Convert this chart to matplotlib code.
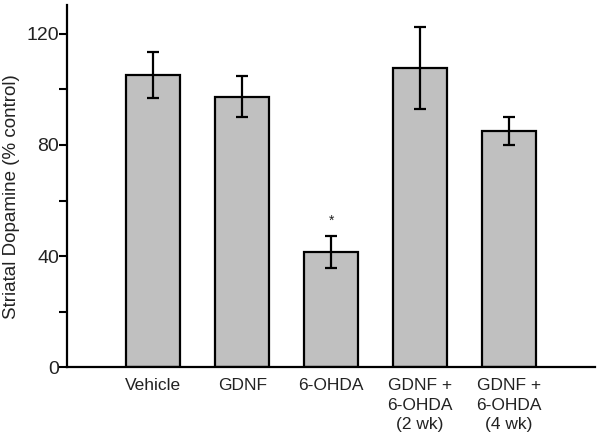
import matplotlib.pyplot as plt
from matplotlib.ticker import MultipleLocator

plt.rcParams['font.family'] = ['Liberation Sans', 'DejaVu Sans']

# data
groups = ['Vehicle', 'GDNF', '6-OHDA', 'GDNF +\n6-OHDA\n(2 wk)', 'GDNF +\n6-OHDA\n(4 wk)']
dopamine = [105.2, 97.4, 41.5, 107.6, 85.0]
sem = [8.2, 7.5, 5.8, 14.7, 5.0]
signif = ['', '', '*', '', '']

fig = plt.figure(figsize=(6, 4.38), dpi=100)
ax = fig.add_axes([0.111, 0.161, 0.881, 0.828])

x = range(len(groups))
ax.bar(x, dopamine, width=0.61, color='#c0c0c0', edgecolor='black', linewidth=1.6,
       yerr=sem, capsize=4, error_kw={'elinewidth': 1.6, 'capthick': 1.6, 'ecolor': 'black'})

# asterisk above the significant bar
for i, s in enumerate(signif):
    if s:
        ax.text(i, dopamine[i] + sem[i] + 5.5, s, ha='center', va='center', fontsize=10, color='#222222')

ax.set_xlim(-0.976, 4.97)
ax.set_ylim(0, 130.4)
ax.yaxis.set_major_locator(MultipleLocator(40))
ax.yaxis.set_minor_locator(MultipleLocator(20))
ax.tick_params(axis='y', which='major', direction='out', length=6, width=1.5,
               labelsize=14, pad=-0.5, labelcolor='#222222')
ax.tick_params(axis='y', which='minor', direction='out', length=6, width=1.5)
ax.set_xticks(list(x))
ax.set_xticklabels(groups, fontsize=12.5, linespacing=1.4, color='#222222')
ax.tick_params(axis='x', length=0, pad=7.5)

for side in ['top', 'right']:
    ax.spines[side].set_visible(False)
for side in ['left', 'bottom']:
    ax.spines[side].set_linewidth(1.6)

ax.set_ylabel('Striatal Dopamine (% control)', fontsize=13.5, color='#222222')
ax.yaxis.set_label_coords(-0.088, 0.47)

fig.savefig('out.png', dpi=100)
